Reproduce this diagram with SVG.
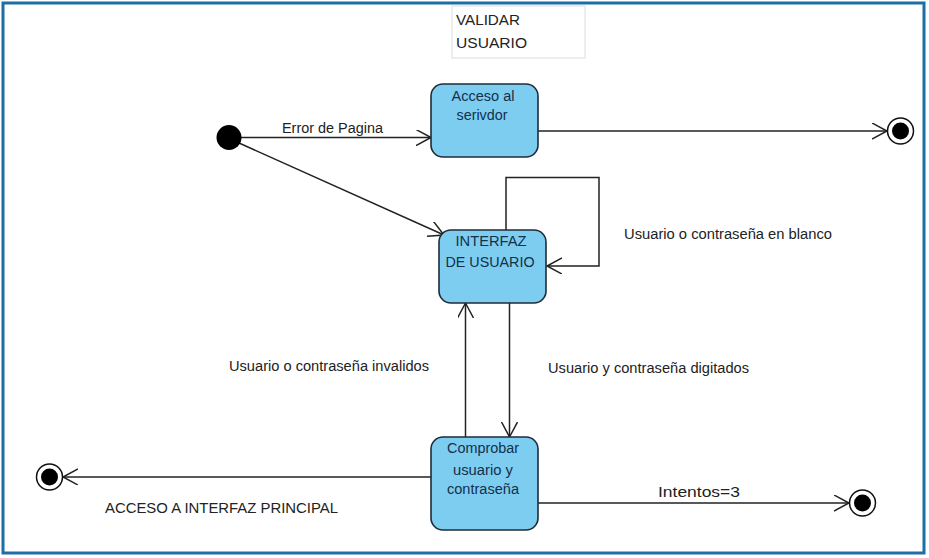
<svg xmlns="http://www.w3.org/2000/svg" width="929" height="558" viewBox="0 0 929 558">
<style>
.frame{fill:#ffffff;stroke:#1b6ea8;stroke-width:3}
.title{fill:#ffffff;stroke:#dcdcdc;stroke-width:1}
.tt{font-family:"Liberation Sans",Arial,sans-serif;font-size:15px;fill:#222}
.state{fill:#7dcdf1;stroke:#1e2c3a;stroke-width:1.6}
.st{font-family:"Liberation Sans",Arial,sans-serif;font-size:14px;fill:#14304a;text-anchor:middle}
.lbl{font-family:"Liberation Sans",Arial,sans-serif;font-size:14px;fill:#222}
.edge{fill:none;stroke:#222;stroke-width:1.5}
.ring{fill:#ffffff;stroke:#111;stroke-width:1.5}
</style>
<defs>
<marker id="arr" markerUnits="userSpaceOnUse" markerWidth="18" markerHeight="18" refX="15" refY="8" orient="auto" viewBox="0 0 18 18">
<path d="M0,0 L15,8 L0,16" fill="none" stroke="#222" stroke-width="1.5"/>
</marker>
</defs>
<rect class="frame" x="3" y="3" width="921" height="550"/>
<g id="title">
<rect class="title" x="452" y="6" width="133" height="52"/>
<text class="tt" x="456" y="25" textLength="64" lengthAdjust="spacingAndGlyphs">VALIDAR</text>
<text class="tt" x="456" y="48" textLength="71" lengthAdjust="spacingAndGlyphs">USUARIO</text>
</g>
<g id="connectors">
<line class="edge" x1="241" y1="137.5" x2="431" y2="137.5" marker-end="url(#arr)"/>
<line class="edge" x1="239" y1="143" x2="444" y2="235" marker-end="url(#arr)"/>
<line class="edge" x1="538" y1="131" x2="887" y2="131" marker-end="url(#arr)"/>
<polyline class="edge" points="506,230 506,177.5 599,177.5 599,266 547,266" marker-end="url(#arr)"/>
<line class="edge" x1="509.5" y1="303" x2="509.5" y2="437" marker-end="url(#arr)"/>
<line class="edge" x1="465.5" y1="437" x2="465.5" y2="303" marker-end="url(#arr)"/>
<line class="edge" x1="431" y1="477" x2="63" y2="477" marker-end="url(#arr)"/>
<line class="edge" x1="538" y1="503" x2="849" y2="503" marker-end="url(#arr)"/>
<text class="lbl" x="282" y="133" textLength="101" lengthAdjust="spacingAndGlyphs">Error de Pagina</text>
<text class="lbl" x="624" y="239" textLength="208" lengthAdjust="spacingAndGlyphs">Usuario o contraseña en blanco</text>
<text class="lbl" x="229" y="371" textLength="200" lengthAdjust="spacingAndGlyphs">Usuario o contraseña invalidos</text>
<text class="lbl" x="548" y="373" textLength="201" lengthAdjust="spacingAndGlyphs">Usuario y contraseña digitados</text>
<text class="lbl" x="105" y="513" textLength="233" lengthAdjust="spacingAndGlyphs">ACCESO A INTERFAZ PRINCIPAL</text>
<text class="lbl" x="658" y="497" textLength="82" lengthAdjust="spacingAndGlyphs">Intentos=3</text>
</g>
<g id="initial">
<circle cx="229" cy="137.5" r="12.5" fill="#000"/>
</g>
<g id="acceso">
<rect class="state" x="431" y="84" width="107" height="73" rx="12"/>
<text class="st" x="483" y="101" textLength="63" lengthAdjust="spacingAndGlyphs">Acceso al</text>
<text class="st" x="482" y="120" textLength="51" lengthAdjust="spacingAndGlyphs">serivdor</text>
</g>
<g id="interfaz">
<rect class="state" x="439" y="230" width="107" height="73" rx="12"/>
<text class="st" x="491" y="246" textLength="71" lengthAdjust="spacingAndGlyphs">INTERFAZ</text>
<text class="st" x="490" y="267" textLength="89" lengthAdjust="spacingAndGlyphs">DE USUARIO</text>
</g>
<g id="comprobar">
<rect class="state" x="431" y="437" width="107" height="93" rx="12"/>
<text class="st" x="483" y="453" textLength="72" lengthAdjust="spacingAndGlyphs">Comprobar</text>
<text class="st" x="483" y="475" textLength="60" lengthAdjust="spacingAndGlyphs">usuario y</text>
<text class="st" x="483" y="494" textLength="72" lengthAdjust="spacingAndGlyphs">contraseña</text>
</g>
<g id="final1">
<circle class="ring" cx="900.5" cy="131" r="13"/>
<circle cx="900.5" cy="131" r="8.5" fill="#000"/>
</g>
<g id="final2">
<circle class="ring" cx="49.5" cy="477" r="13"/>
<circle cx="49.5" cy="477" r="8.5" fill="#000"/>
</g>
<g id="final3">
<circle class="ring" cx="862.5" cy="503" r="13"/>
<circle cx="862.5" cy="503" r="8.5" fill="#000"/>
</g>
</svg>
